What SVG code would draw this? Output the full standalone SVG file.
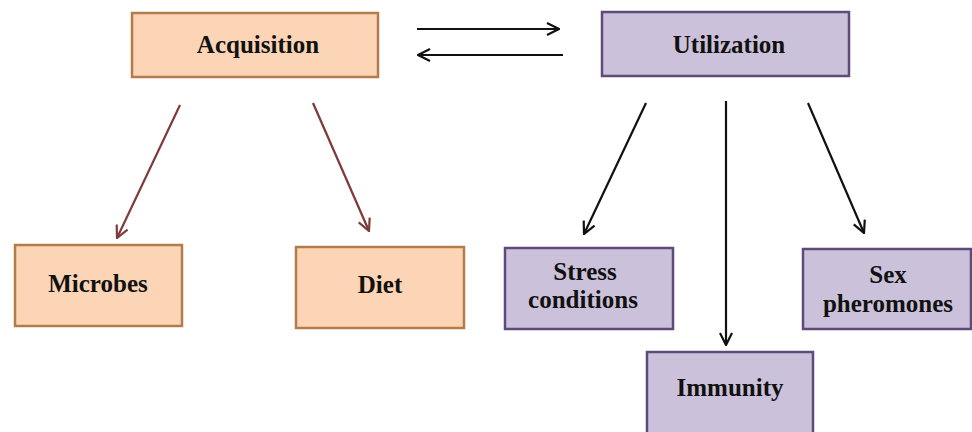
<svg xmlns="http://www.w3.org/2000/svg" width="972" height="432" viewBox="0 0 972 432">
<style>
.acq{fill:#FBD5B5;stroke:#B47C4A;stroke-width:2.5}
.utl{fill:#CCC1DA;stroke:#5F4B7B;stroke-width:2.5}
text{font-family:"Liberation Serif","Times New Roman",serif;font-weight:bold;font-size:25px;fill:#111;text-anchor:middle}
.br{stroke:#7F3A3A;stroke-width:2.2;fill:none}
.bk{stroke:#111;stroke-width:2.2;fill:none}
</style>
<defs>
<marker id="ab" viewBox="0 0 14 14" refX="13" refY="7" markerWidth="14" markerHeight="14" markerUnits="userSpaceOnUse" orient="auto">
<path d="M1,1 L13,7 L1,13" fill="none" stroke="#7F3A3A" stroke-width="2.2"/>
</marker>
<marker id="ak" viewBox="0 0 14 14" refX="13" refY="7" markerWidth="14" markerHeight="14" markerUnits="userSpaceOnUse" orient="auto">
<path d="M1,1 L13,7 L1,13" fill="none" stroke="#111" stroke-width="2.2"/>
</marker>
</defs>
<g id="connectors">
<line class="bk" x1="417" y1="29" x2="559" y2="29" marker-end="url(#ak)"/>
<line class="bk" x1="563" y1="55" x2="418" y2="55" marker-end="url(#ak)"/>
<line class="br" x1="180" y1="105" x2="117" y2="238" marker-end="url(#ab)"/>
<line class="br" x1="313" y1="103" x2="369" y2="231" marker-end="url(#ab)"/>
<line class="bk" x1="646" y1="103" x2="584" y2="234" marker-end="url(#ak)"/>
<line class="bk" x1="726" y1="101" x2="726" y2="345" marker-end="url(#ak)"/>
<line class="bk" x1="808" y1="103" x2="864" y2="233" marker-end="url(#ak)"/>
</g>
<g id="acquisition">
<rect class="acq" x="132" y="13" width="246" height="64"/>
<text x="258" y="53">Acquisition</text>
</g>
<g id="utilization">
<rect class="utl" x="602" y="12" width="247" height="64"/>
<text x="729" y="53">Utilization</text>
</g>
<g id="microbes">
<rect class="acq" x="15" y="245" width="167" height="81"/>
<text x="98" y="292">Microbes</text>
</g>
<g id="diet">
<rect class="acq" x="296" y="247" width="168" height="81"/>
<text x="380" y="293">Diet</text>
</g>
<g id="stress">
<rect class="utl" x="505" y="248" width="168" height="81"/>
<text x="585" y="280">Stress</text>
<text x="583" y="308">conditions</text>
</g>
<g id="sex">
<rect class="utl" x="803" y="249" width="168" height="80"/>
<text x="888" y="283">Sex</text>
<text x="888" y="312">pheromones</text>
</g>
<g id="immunity">
<rect class="utl" x="647" y="352" width="166" height="90"/>
<text x="730" y="396">Immunity</text>
</g>
</svg>
